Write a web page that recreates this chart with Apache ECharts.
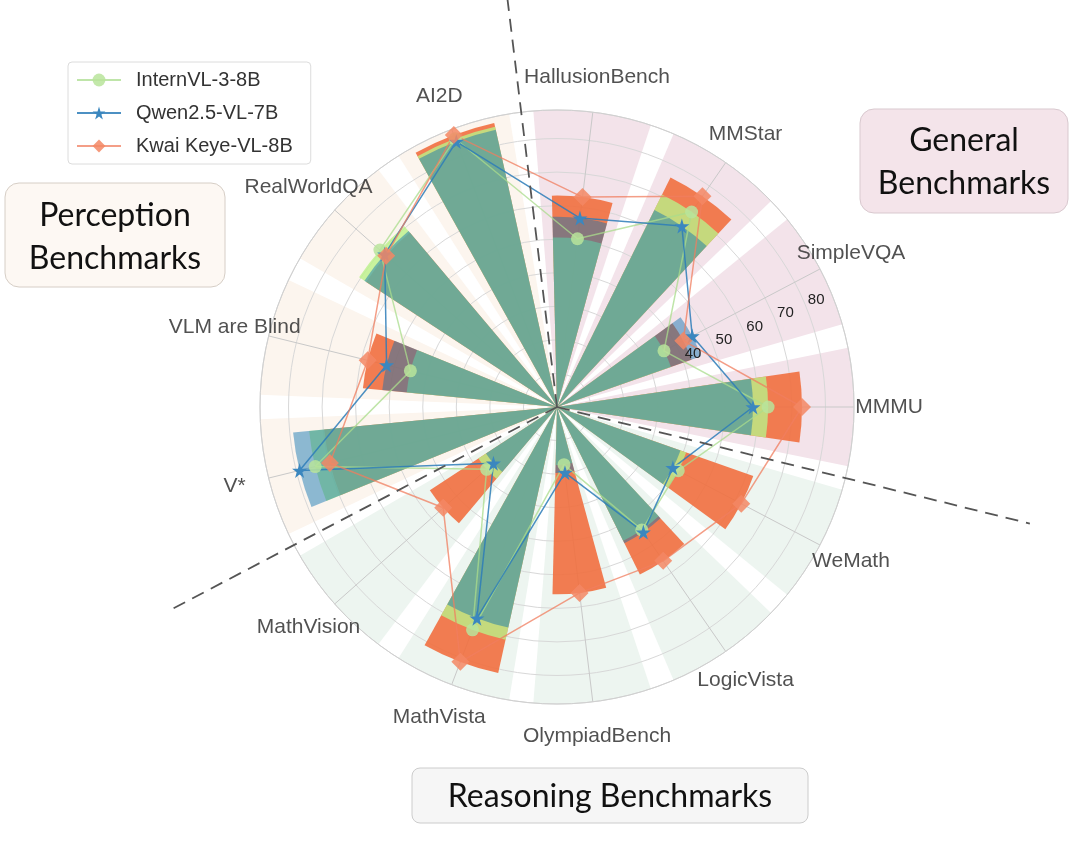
<!DOCTYPE html>
<html>
<head>
<meta charset="utf-8">
<script src="https://cdn.jsdelivr.net/npm/echarts@6/dist/echarts.min.js"></script>
<style>
  html, body { margin: 0; padding: 0; background: #fff; }
  #chart { width: 1080px; height: 842px; }
</style>
</head>
<body>
<div id="chart"></div>
<script>
// categories go counter-clockwise starting at MMMU (3 o'clock)
const categories = ['MMMU', 'SimpleVQA', 'MMStar', 'HallusionBench', 'AI2D', 'RealWorldQA',
  'VLM are Blind', 'V*', 'MathVision', 'MathVista', 'OlympiadBench', 'LogicVista', 'WeMath'];
const groups = ['General', 'General', 'General', 'General', 'Perception', 'Perception',
  'Perception', 'Perception', 'Reasoning', 'Reasoning', 'Reasoning', 'Reasoning', 'Reasoning'];
const internVL = [62.9, 36.0, 70.6, 50.5, 85.5, 70.5, 45.0, 74.2, 28.0, 71.0, 17.3, 44.5, 40.8];
const qwen     = [58.4, 45.5, 65.5, 56.7, 84.6, 68.6, 52.3, 79.0, 25.3, 67.3, 19.7, 45.3, 39.0];
const keye     = [73.0, 42.5, 76.3, 63.0, 86.7, 68.0, 58.1, 69.7, 45.3, 81.2, 55.8, 55.7, 62.0];
const radialTicks = [40, 50, 60, 70, 80];
const rMax = 88.5;

const center = [557, 407];
const R = 297;
const n = categories.length;
const step = 360 / n;
const bgColor = { General: '#f3e3ea', Perception: '#fcf5ee', Reasoning: '#edf5f0' };
const font = 'Liberation Sans';
const starPath = 'path://M50,0 L61,35 L98,35 L68,57 L79,91 L50,70 L21,91 L32,57 L2,35 L39,35 Z';

// group dividers sit between categories (angle index), length in px
const dividers = [3.5, 7.5, 12.5];
const dividerLen = [460, 436, 487];

const hidden = {
  axisLine: { show: false }, axisTick: { show: false },
  axisLabel: { show: false }, splitLine: { show: false }
};

function closed(vals) {
  const pts = vals.map((v, i) => [v, i]);
  pts.push({ value: [vals[0], n], symbol: 'none' });
  return pts;
}

// polar 0: background, 1-3: bars (one series each so they overlap exactly),
// 4: lines + spokes, 5: radial tick labels, 6: category labels + dividers
const polars = [];
for (let i = 0; i < 6; i++) polars.push({ center: center, radius: R });
polars.push({ center: center, radius: 500 });

const catAxis = idx => Object.assign({ polarIndex: idx, type: 'category', data: categories, startAngle: -step / 2, clockwise: false }, hidden);

const chart = echarts.init(document.getElementById('chart'));
chart.setOption({
  animation: false,
  backgroundColor: '#fff',
  polar: polars,
  angleAxis: [
    catAxis(0),
    {
      polarIndex: 1, type: 'category', data: categories, startAngle: -step / 2, clockwise: false, z: 1,
      axisLine: { show: true, lineStyle: { color: '#d0d0d0', width: 1 } },
      axisTick: { show: false }, axisLabel: { show: false }, splitLine: { show: false }
    },
    catAxis(2),
    catAxis(3),
    {
      polarIndex: 4, type: 'value', min: 0, max: n, interval: 1, startAngle: 0, clockwise: false, z: 1,
      axisLine: { show: false }, axisTick: { show: false }, axisLabel: { show: false },
      splitLine: { show: true, lineStyle: { color: '#c9c9c9', width: 1 } }
    },
    Object.assign({ polarIndex: 5, type: 'value', min: 0, max: 360, startAngle: 23.5, clockwise: false }, hidden),
    Object.assign({ polarIndex: 6, type: 'value', min: 0, max: n, startAngle: 0, clockwise: false }, hidden)
  ],
  radiusAxis: [
    Object.assign({ polarIndex: 0, min: 0, max: rMax }, hidden),
    {
      polarIndex: 1, min: 0, max: rMax, interval: 10, z: 1,
      axisLine: { show: false }, axisTick: { show: false }, axisLabel: { show: false },
      splitLine: { show: true, lineStyle: { color: '#d8d8d8', width: 1 } }
    },
    Object.assign({ polarIndex: 2, min: 0, max: rMax }, hidden),
    Object.assign({ polarIndex: 3, min: 0, max: rMax }, hidden),
    Object.assign({ polarIndex: 4, min: 0, max: rMax }, hidden),
    {
      polarIndex: 5, min: 0, max: rMax, interval: 10, z: 6,
      axisLine: { show: false }, axisTick: { show: false }, splitLine: { show: false },
      axisLabel: {
        show: true, margin: 0, align: 'center', verticalAlign: 'middle',
        padding: [0, 0, 20, 26], fontSize: 15, color: '#222', fontFamily: font,
        formatter: v => radialTicks.indexOf(v) >= 0 ? String(v) : ''
      }
    },
    Object.assign({ polarIndex: 6, min: 0, max: 500 }, hidden)
  ],
  legend: {
    data: ['InternVL-3-8B', 'Qwen2.5-VL-7B', 'Kwai Keye-VL-8B'],
    orient: 'vertical', left: 68, top: 62,
    itemWidth: 44, itemHeight: 16, itemGap: 13,
    padding: [8, 18, 8, 8],
    backgroundColor: '#fff', borderColor: '#dcdcdc', borderWidth: 1, borderRadius: 4,
    textStyle: { fontSize: 20, color: '#333', fontFamily: font, padding: [0, 0, 0, 10] }
  },
  graphic: [
    { type: 'rect', shape: { x: 5, y: 183, width: 220, height: 104, r: 14 },
      style: { fill: '#fdf8f3', stroke: '#d6cec6', lineWidth: 1 } },
    { type: 'text', x: 115, y: 237,
      style: { text: 'Perception\nBenchmarks', font: '32px Lato', fill: '#111', align: 'center', verticalAlign: 'middle', lineHeight: 43 } },
    { type: 'rect', shape: { x: 860, y: 109, width: 208, height: 104, r: 14 },
      style: { fill: '#f4e4ea', stroke: '#d9c9cf', lineWidth: 1 } },
    { type: 'text', x: 964, y: 162,
      style: { text: 'General\nBenchmarks', font: '32px Lato', fill: '#111', align: 'center', verticalAlign: 'middle', lineHeight: 43 } },
    { type: 'rect', shape: { x: 412, y: 768, width: 396, height: 55, r: 8 },
      style: { fill: '#f6f6f6', stroke: '#cccccc', lineWidth: 1 } },
    { type: 'text', x: 610, y: 797,
      style: { text: 'Reasoning Benchmarks', font: '32px Lato', fill: '#111', align: 'center', verticalAlign: 'middle' } }
  ],
  series: [
    {
      type: 'bar', name: 'bg', coordinateSystem: 'polar', polarIndex: 0, z: 0, silent: true,
      barWidth: '83%',
      data: categories.map((c, i) => ({ value: rMax, itemStyle: { color: bgColor[groups[i]] } }))
    },
    {
      type: 'bar', name: 'bar-keye', coordinateSystem: 'polar', polarIndex: 1, z: 2,
      barWidth: '60%', data: keye,
      itemStyle: { color: 'rgba(241,111,63,0.9)' }
    },
    {
      type: 'bar', name: 'bar-intern', coordinateSystem: 'polar', polarIndex: 2, z: 2,
      barWidth: '60%', data: internVL,
      itemStyle: { color: 'rgba(186,241,136,0.8)' }
    },
    {
      type: 'bar', name: 'bar-qwen', coordinateSystem: 'polar', polarIndex: 3, z: 2,
      barWidth: '60%', data: qwen,
      itemStyle: { color: 'rgba(15,115,177,0.47)' }
    },
    {
      type: 'line', name: 'InternVL-3-8B', coordinateSystem: 'polar', polarIndex: 4, z: 3,
      data: closed(internVL), symbol: 'circle', symbolSize: 13,
      lineStyle: { color: 'rgba(170,220,140,0.75)', width: 1.5 },
      itemStyle: { color: 'rgba(185,228,155,0.85)' }
    },
    {
      type: 'line', name: 'Qwen2.5-VL-7B', coordinateSystem: 'polar', polarIndex: 4, z: 3,
      data: closed(qwen), symbol: starPath, symbolSize: 15,
      lineStyle: { color: 'rgba(45,125,185,0.85)', width: 1.5 },
      itemStyle: { color: '#3b87bf' }
    },
    {
      type: 'line', name: 'Kwai Keye-VL-8B', coordinateSystem: 'polar', polarIndex: 4, z: 3,
      data: closed(keye), symbol: 'diamond', symbolSize: 18,
      lineStyle: { color: 'rgba(240,125,95,0.75)', width: 1.5 },
      itemStyle: { color: 'rgba(243,135,100,0.85)' }
    },
    ...dividers.map((a, k) => ({
      type: 'line', coordinateSystem: 'polar', polarIndex: 6, z: 4, silent: true,
      data: [[0, a], [dividerLen[k], a]], symbol: 'none',
      lineStyle: { color: '#555', width: 1.8, type: [13, 8] }
    })),
    {
      type: 'scatter', coordinateSystem: 'polar', polarIndex: 6, z: 5, silent: true,
      symbolSize: 1, itemStyle: { color: 'rgba(0,0,0,0)' },
      data: categories.map((c, i) => ({ value: [332, i], name: c })),
      label: { show: true, position: 'inside', formatter: p => p.name, fontSize: 21, color: '#262626', fontFamily: font }
    }
  ]
});
</script>
</body>
</html>
